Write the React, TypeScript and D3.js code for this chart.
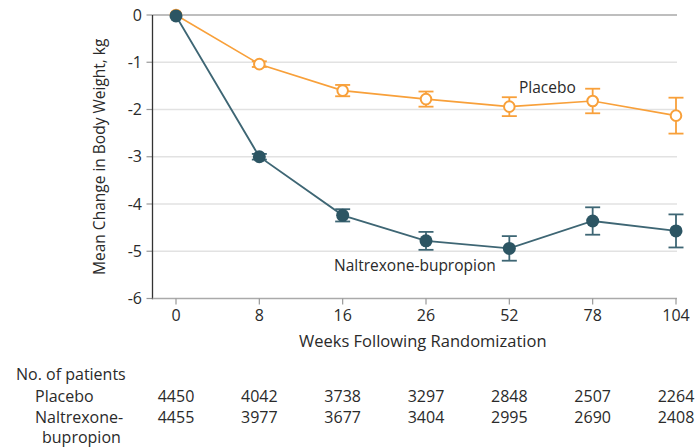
import React from "react";
import * as d3 from "d3";

// Weeks following randomization (categorical x positions)
const weeks = ["0", "8", "16", "26", "52", "78", "104"];

// Mean change in body weight (kg) and error half-widths
const placeboMean = [0, -1.04, -1.6, -1.78, -1.94, -1.82, -2.13];
const placeboErr = [0, 0.06, 0.12, 0.16, 0.2, 0.26, 0.38];
const nbMean = [-0.02, -3.0, -4.24, -4.78, -4.94, -4.36, -4.57];
const nbErr = [0, 0.06, 0.13, 0.19, 0.26, 0.29, 0.35];

// Number of patients at risk per visit
const placeboN = [4450, 4042, 3738, 3297, 2848, 2507, 2264];
const nbN = [4455, 3977, 3677, 3404, 2995, 2690, 2408];

const yTicks = [0, -1, -2, -3, -4, -5, -6];

const ORANGE = "#F8A03A";
const TEAL = "#2C5563";
const TEAL_LINE = "#3E6674";
const TEXT = "#2a2a2a";
const FONT = "'Open Sans', 'DejaVu Sans', sans-serif";

export default function App() {
  const W = 697;
  const H = 448;
  const axisLeft = 152.5;
  const plotRight = 677;

  const x = d3
    .scalePoint<string>()
    .domain(weeks)
    .range([176, 676]);
  const y = d3.scaleLinear().domain([0, -6]).range([15, 298.5]);

  const line = d3
    .line<number>()
    .x((_, i) => x(weeks[i]) as number)
    .y((d) => y(d));

  const errorBars = (
    means: number[],
    errs: number[],
    color: string,
    key: string
  ) =>
    means.map((m, i) => {
      if (errs[i] <= 0) return null;
      const cx = x(weeks[i]) as number;
      const top = y(m + errs[i]);
      const bot = y(m - errs[i]);
      const hw = 7.5;
      return (
        <g key={`${key}-e${i}`} stroke={color} strokeWidth={1.8}>
          <line x1={cx} x2={cx} y1={top} y2={bot} />
          <line x1={cx - hw} x2={cx + hw} y1={top} y2={top} />
          <line x1={cx - hw} x2={cx + hw} y1={bot} y2={bot} />
        </g>
      );
    });

  const fontSize = 16;

  return (
    <svg
      width={W}
      height={H}
      style={{ position: "absolute", left: 0, top: 0, background: "#fff" }}
      fontFamily={FONT}
    >
      {/* horizontal gridlines */}
      {yTicks
        .filter((t) => t !== 0 && t !== -6)
        .map((t) => (
          <line
            key={`g${t}`}
            x1={axisLeft}
            x2={plotRight}
            y1={y(t)}
            y2={y(t)}
            stroke="#e2e2e2"
            strokeWidth={1.5}
          />
        ))}
      <line
        x1={axisLeft}
        x2={plotRight}
        y1={y(0)}
        y2={y(0)}
        stroke="#a8a8a8"
        strokeWidth={1.6}
      />

      {/* y axis */}
      {yTicks.map((t) => (
        <g key={`yt${t}`}>
          <line
            x1={axisLeft - 6}
            x2={axisLeft}
            y1={y(t)}
            y2={y(t)}
            stroke="#999"
            strokeWidth={1.2}
          />
          <text
            x={142}
            y={y(t)}
            dy="0.35em"
            textAnchor="end"
            fontSize={fontSize}
            fill={TEXT}
          >
            {t === 0 ? "0" : `-${Math.abs(t)}`}
          </text>
        </g>
      ))}
      <line
        x1={axisLeft}
        x2={axisLeft}
        y1={y(0)}
        y2={y(-6) + 0.8}
        stroke="#333"
        strokeWidth={1.3}
      />
      <text
        transform={`translate(105, ${(y(0) + y(-6)) / 2}) rotate(-90)`}
        textAnchor="middle"
        fontSize={15.5}
        fill={TEXT}
      >
        Mean Change in Body Weight, kg
      </text>

      {/* x axis */}
      <line
        x1={axisLeft}
        x2={plotRight}
        y1={y(-6)}
        y2={y(-6)}
        stroke="#aaa"
        strokeWidth={1.6}
      />
      {weeks.map((w) => (
        <g key={`xt${w}`}>
          <line
            x1={x(w)}
            x2={x(w)}
            y1={y(-6)}
            y2={y(-6) + 6}
            stroke="#999"
            strokeWidth={1.2}
          />
          <text
            x={x(w)}
            y={321}
            textAnchor="middle"
            fontSize={fontSize}
            fill={TEXT}
          >
            {w}
          </text>
        </g>
      ))}
      <text
        x={(axisLeft + plotRight) / 2 + 8}
        y={347}
        textAnchor="middle"
        fontSize={16.5}
        fill={TEXT}
      >
        Weeks Following Randomization
      </text>

      {/* placebo series */}
      <path
        d={line(placeboMean) ?? ""}
        fill="none"
        stroke={ORANGE}
        strokeWidth={1.6}
      />
      {errorBars(placeboMean, placeboErr, ORANGE, "p")}
      {placeboMean.map((m, i) => (
        <circle
          key={`pc${i}`}
          cx={x(weeks[i])}
          cy={y(m)}
          r={5.3}
          fill="#fff"
          stroke={ORANGE}
          strokeWidth={2}
        />
      ))}

      {/* naltrexone-bupropion series */}
      <path
        d={line(nbMean) ?? ""}
        fill="none"
        stroke={TEAL_LINE}
        strokeWidth={1.8}
      />
      {errorBars(nbMean, nbErr, TEAL_LINE, "n")}
      {nbMean.map((m, i) => (
        <circle
          key={`nc${i}`}
          cx={x(weeks[i])}
          cy={y(m)}
          r={6.5}
          fill={TEAL}
        />
      ))}

      {/* series labels */}
      <text x={519} y={93} fontSize={15.5} fill={TEXT}>
        Placebo
      </text>
      <text x={334} y={271} fontSize={15.5} fill={TEXT}>
        Naltrexone-bupropion
      </text>

      {/* patients at risk table */}
      <text x={16} y={380} fontSize={fontSize} fill={TEXT}>
        No. of patients
      </text>
      <text x={35} y={402} fontSize={fontSize} fill={TEXT}>
        Placebo
      </text>
      <text x={35} y={423} fontSize={fontSize} fill={TEXT}>
        Naltrexone-
      </text>
      <text x={42} y={443} fontSize={fontSize} fill={TEXT}>
        bupropion
      </text>
      {weeks.map((w, i) => (
        <g key={`n${w}`}>
          <text
            x={x(w)}
            y={402}
            textAnchor="middle"
            fontSize={fontSize}
            fill={TEXT}
          >
            {placeboN[i]}
          </text>
          <text
            x={x(w)}
            y={423}
            textAnchor="middle"
            fontSize={fontSize}
            fill={TEXT}
          >
            {nbN[i]}
          </text>
        </g>
      ))}
    </svg>
  );
}
